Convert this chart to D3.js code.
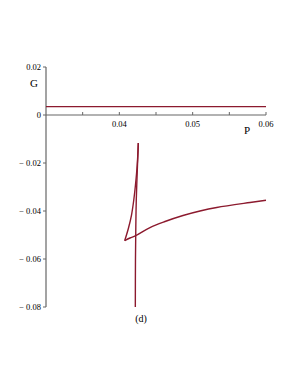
<!DOCTYPE html>
<html>
<head>
<meta charset="utf-8">
<script src="https://cdn.jsdelivr.net/npm/d3@7"></script>
<style>
  body { margin: 0; background: #fff; }
  svg text { font-family: "Liberation Serif", "DejaVu Serif", serif; font-weight: normal; fill: #000; }
</style>
</head>
<body>
<div id="chart"></div>
<script>
const width = 296;
const height = 383;

// horizontal branch, G constant
const flatP = [0.03, 0.06];
const flatG = [0.0035, 0.0035];

// nearly vertical branch, bottom to top
const stableP = [0.04218, 0.04220, 0.04225, 0.04231, 0.04245, 0.04259];
const stableG = [-0.08, -0.06042, -0.04583, -0.03542, -0.02292, -0.01167];

// branch from the top down to the cusp
const cuspP = [0.04259, 0.04244, 0.04220, 0.04197, 0.04166, 0.04125, 0.04073];
const cuspG = [-0.01167, -0.02083, -0.02917, -0.03542, -0.04167, -0.04708, -0.05238];

// branch from the cusp out to the right
const upperP = [0.04073, 0.04145, 0.04223, 0.04418, 0.04623, 0.04868, 0.05100, 0.05328, 0.05782, 0.06];
const upperG = [-0.05238, -0.05125, -0.05029, -0.04688, -0.04438, -0.04188, -0.04, -0.03854, -0.03646, -0.03554];

const xMajor = [0.04, 0.05, 0.06];
const xMinor = [0.035, 0.045, 0.055];
const yTicks = [0.02, 0, -0.02, -0.04, -0.06, -0.08];

const lineColour = '#8c1a2e';

const x = d3.scaleLinear().domain([0.03, 0.06]).range([46, 266]);
const y = d3.scaleLinear().domain([-0.08, 0.02]).range([307, 67]);

const svg = d3.select('#chart')
  .append('svg')
  .attr('width', width)
  .attr('height', height);

// x axis along G = 0
const xAxis = svg.append('g').attr('transform', `translate(0, ${y(0)})`);
xAxis.append('line')
  .attr('x1', x(0.03)).attr('x2', x(0.06))
  .attr('stroke', '#666').attr('stroke-width', 1.2);
xAxis.selectAll('.tick')
  .data(xMajor.concat(xMinor))
  .join('line')
  .attr('x1', d => x(d)).attr('x2', d => x(d))
  .attr('y1', 0).attr('y2', -3)
  .attr('stroke', '#666');
xAxis.selectAll('text')
  .data(xMajor)
  .join('text')
  .attr('x', d => x(d))
  .attr('y', 12)
  .attr('text-anchor', 'middle')
  .attr('font-size', 8.5)
  .text(d => d3.format('.2f')(d));

// y axis at P = 0.03
const yAxis = svg.append('g').attr('transform', `translate(${x(0.03)}, 0)`);
yAxis.append('line')
  .attr('y1', y(0.02)).attr('y2', y(-0.08))
  .attr('stroke', '#666').attr('stroke-width', 1.2);
yAxis.selectAll('line.tick')
  .data(yTicks)
  .join('line')
  .attr('class', 'tick')
  .attr('x1', 0).attr('x2', -3)
  .attr('y1', d => y(d)).attr('y2', d => y(d))
  .attr('stroke', '#666');
yAxis.selectAll('text')
  .data(yTicks)
  .join('text')
  .attr('x', -5)
  .attr('y', d => y(d) + 3)
  .attr('text-anchor', 'end')
  .attr('font-size', 8.5)
  .text(d => d === 0 ? '0' : (d < 0 ? '\u2212 ' : '') + d3.format('.2f')(Math.abs(d)));

svg.append('text').attr('x', 34).attr('y', 87)
  .attr('text-anchor', 'middle').attr('font-size', 11).text('G');
svg.append('text').attr('x', 247).attr('y', 134)
  .attr('text-anchor', 'middle').attr('font-size', 11).text('P');
svg.append('text').attr('x', 141).attr('y', 322)
  .attr('text-anchor', 'middle').attr('font-size', 10).text('(d)');

const line = d3.line()
  .x(d => x(d[0]))
  .y(d => y(d[1]))
  .curve(d3.curveCatmullRom);

const branches = [
  [flatP, flatG],
  [stableP, stableG],
  [cuspP, cuspG],
  [upperP, upperG]
];

branches.forEach(([ps, gs]) => {
  svg.append('path')
    .datum(ps.map((p, i) => [p, gs[i]]))
    .attr('d', line)
    .attr('fill', 'none')
    .attr('stroke', lineColour)
    .attr('stroke-width', 1.4);
});
</script>
</body>
</html>
